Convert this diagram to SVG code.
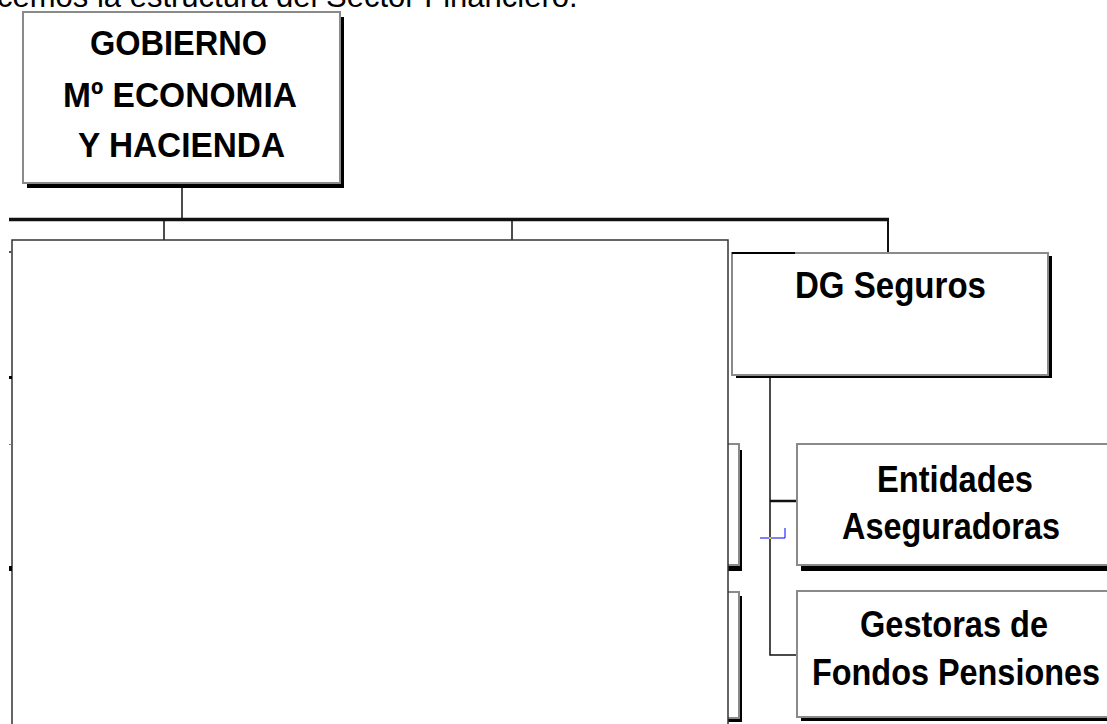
<svg xmlns="http://www.w3.org/2000/svg" width="1107" height="724" viewBox="0 0 1107 724">
<style>
.box{fill:#fff;stroke:#8a8a8a;stroke-width:2}
.shadow{fill:#000}
.lbl{font-family:"Liberation Sans",Arial,sans-serif;font-weight:bold;fill:#000}
.ln{stroke:#111;fill:none}
</style>
<rect width="1107" height="724" fill="#fff"/>
<text x="-3" y="7" font-family="'Liberation Sans',Arial,sans-serif" font-size="31" fill="#000">cemos la estructura del Sector Financiero.</text>

<g id="hidden-boxes">
<rect class="shadow" x="503" y="450" width="239" height="121"/>
<rect class="box" x="500" y="444" width="239" height="121"/>
<rect class="shadow" x="503" y="596" width="239" height="126"/>
<rect class="box" x="500" y="592" width="239" height="126"/>
</g>

<g id="connectors">
<line class="ln" x1="182" y1="188" x2="182" y2="219" stroke-width="1.5"/>
<line class="ln" x1="9" y1="219.5" x2="889" y2="219.5" stroke-width="3.5" stroke="#000"/>
<line class="ln" x1="888" y1="219" x2="888" y2="254" stroke-width="2"/>
<line class="ln" x1="164" y1="221" x2="164" y2="241" stroke-width="1.5"/>
<line class="ln" x1="512" y1="221" x2="512" y2="241" stroke-width="1.5"/>
<polyline class="ln" points="770,378 770,655 797,655" stroke-width="1.5"/>
<line class="ln" x1="770" y1="501" x2="797" y2="501" stroke-width="2.5" stroke="#000"/>
<polyline points="760,538 785,538 785,528" fill="none" stroke="#0000ff" stroke-width="1"/>
<rect x="769" y="537" width="2" height="2" fill="#cccc33"/>
</g>

<g id="panel">
<rect x="12" y="240" width="716" height="500" fill="#fff" stroke="#333" stroke-width="1.5"/>
<rect x="9" y="251" width="3" height="2" fill="#555"/>
<rect x="9" y="376" width="3" height="3" fill="#000"/>
<rect x="9" y="444" width="3" height="1" fill="#777"/>
<rect x="9" y="566" width="3" height="5" fill="#000"/>
</g>

<g id="gobierno">
<rect class="shadow" x="27" y="17" width="317" height="171"/>
<rect class="box" x="23" y="12" width="317" height="171"/>
<text class="lbl" x="90" y="55" font-size="35" textLength="177" lengthAdjust="spacingAndGlyphs">GOBIERNO</text>
<text class="lbl" x="63" y="107" font-size="35" textLength="234" lengthAdjust="spacingAndGlyphs">Mº ECONOMIA</text>
<text class="lbl" x="78" y="157" font-size="35" textLength="207" lengthAdjust="spacingAndGlyphs">Y HACIENDA</text>
</g>

<g id="dg-seguros">
<rect class="shadow" x="736" y="256" width="316" height="122"/>
<rect class="box" x="732" y="253" width="316" height="122"/>
<line x1="732" y1="253" x2="795" y2="253" stroke="#000" stroke-width="2"/>
<text class="lbl" x="795" y="298" font-size="36" textLength="191" lengthAdjust="spacingAndGlyphs">DG Seguros</text>
</g>

<g id="entidades">
<rect class="shadow" x="801" y="450" width="330" height="121"/>
<rect class="box" x="797" y="444" width="330" height="121"/>
<text class="lbl" x="877" y="492" font-size="37" textLength="156" lengthAdjust="spacingAndGlyphs">Entidades</text>
<text class="lbl" x="842" y="539" font-size="37" textLength="218" lengthAdjust="spacingAndGlyphs">Aseguradoras</text>
</g>

<g id="gestoras">
<rect class="shadow" x="801" y="595" width="330" height="126"/>
<rect class="box" x="797" y="591" width="330" height="126"/>
<text class="lbl" x="860" y="637" font-size="37" textLength="188" lengthAdjust="spacingAndGlyphs">Gestoras de</text>
<text class="lbl" x="812" y="685" font-size="37" textLength="288" lengthAdjust="spacingAndGlyphs">Fondos Pensiones</text>
</g>
</svg>
